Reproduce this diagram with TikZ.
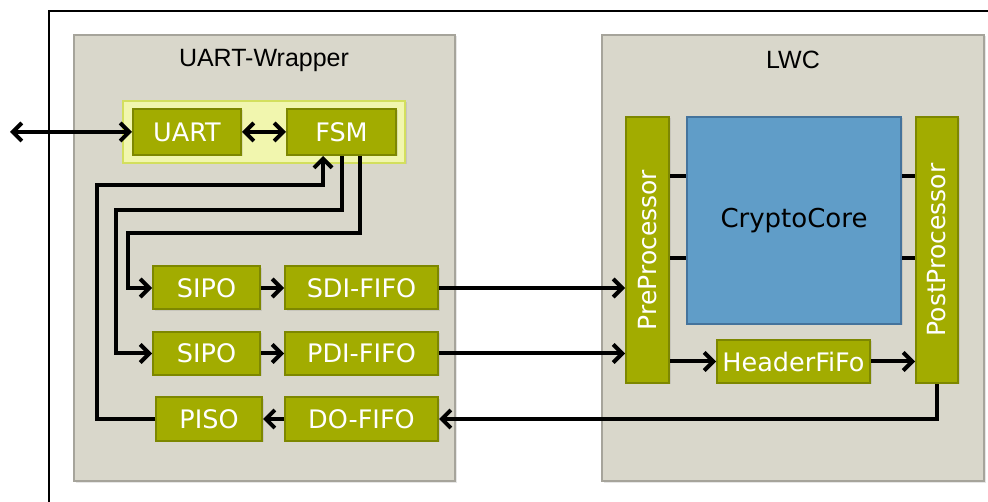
\documentclass[tikz,border=0pt]{standalone}
\usepackage{fontspec}
\setmainfont{DejaVu Sans}
\newfontfamily\titlefont{Liberation Sans}
\usetikzlibrary{arrows.meta,shadows}

\definecolor{panelgray}{HTML}{D9D7CB}
\definecolor{panelline}{HTML}{A6A49B}
\definecolor{blockgreen}{HTML}{A2AC00}
\definecolor{blockline}{HTML}{7D8700}
\definecolor{groupyellow}{HTML}{F1F6AE}
\definecolor{groupline}{HTML}{D3DF5E}
\definecolor{coreblue}{HTML}{609DC8}
\definecolor{coreline}{HTML}{44739C}

\begin{document}
\begin{tikzpicture}[x=1pt, y=-1pt,
    softshadow/.style={drop shadow={shadow xshift=1.5pt, shadow yshift=-1.5pt, opacity=0.2}},
    panel/.style={draw=panelline, fill=panelgray, line width=2pt, softshadow},
    paneltitle/.style={font=\titlefont\fontsize{25}{30}\selectfont, inner sep=0pt},
    block/.style={draw=blockline, fill=blockgreen, line width=2pt, softshadow,
      text=white, font=\fontsize{25.5}{30}\selectfont, inner sep=0pt},
    sidetext/.style={rotate=90, text=white, font=\fontsize{25}{30}\selectfont, inner sep=0pt},
    wire/.style={line width=4pt},
    arr/.style={wire, -{Straight Barb[length=9pt, width=18pt]}},
    dblarr/.style={wire, {Straight Barb[length=9pt, width=18pt]}-{Straight Barb[length=9pt, width=18pt]}}
  ]
  \useasboundingbox (0,0) rectangle (988,502);

  % Outer frame (runs off the page)
  \draw[line width=2pt] (49,502) -- (49,11) -- (990,11);

  % The two panels
  \node[panel, minimum width=381pt, minimum height=446pt] (wrapper) at (264.5,258) {};
  \node[panel, minimum width=382pt, minimum height=446pt] (lwc) at (793,258) {};
  \node[paneltitle] (wraptitle) at (264,60) {UART-Wrapper};
  \node[paneltitle] (lwctitle) at (793,60) {LWC};

  % UART + FSM group
  \node[draw=groupline, fill=groupyellow, line width=1.5pt, softshadow,
    minimum width=282pt, minimum height=62pt] (ctrlgroup) at (264,132) {};
  \node[block, minimum width=108pt, minimum height=46pt] (uart) at (187,132) {UART};
  \node[block, minimum width=109pt, minimum height=46pt] (fsm) at (341.5,132) {FSM};

  % Serial/parallel converters and fifos
  \node[block, minimum width=107pt, minimum height=43pt] (sipoa) at (206.5,288) {SIPO};
  \node[block, minimum width=153pt, minimum height=43pt] (sdififo) at (361.5,288) {SDI-FIFO};
  \node[block, minimum width=107pt, minimum height=43pt] (sipob) at (206.5,353.5) {SIPO};
  \node[block, minimum width=153pt, minimum height=43pt] (pdififo) at (361.5,353.5) {PDI-FIFO};
  \node[block, minimum width=106pt, minimum height=43pt] (piso) at (209,419) {PISO};
  \node[block, minimum width=153pt, minimum height=43pt] (dofifo) at (361.5,419) {DO-FIFO};

  % LWC internals
  \node[block, minimum width=43pt, minimum height=266pt] (pre) at (647.5,250) {};
  \node[sidetext] (pretext) at (pre) {PreProcessor};
  \node[block, minimum width=42pt, minimum height=266pt] (post) at (937,250) {};
  \node[sidetext] (posttext) at (post) {PostProcessor};
  \node[draw=coreline, fill=coreblue, line width=2pt, softshadow,
    minimum width=214pt, minimum height=207pt,
    font=\fontsize{26}{30}\selectfont] (core) at (794,220.5) {CryptoCore};
  \node[block, minimum width=153pt, minimum height=43pt] (header) at (793.5,361.5) {HeaderFiFo};

  % Host link and UART <-> FSM
  \coordinate (host) at (10,132);
  \draw[dblarr] (host) -- (uart.west);
  \draw[dblarr] (uart.east) -- (fsm.west);

  % FSM control lines
  \draw[arr] (piso.west) -| (97,185) -| ([xshift=-18.5pt]fsm.south);
  \draw[arr] (fsm.south) |- (116,210) |- (sipob.west);
  \draw[arr] ([xshift=18.5pt]fsm.south) |- (128,233) |- (sipoa.west);

  % Data path inside the wrapper
  \draw[arr] (sipoa) -- (sdififo);
  \draw[arr] (sipob) -- (pdififo);
  \draw[arr] (dofifo) -- (piso);

  % Wrapper <-> LWC
  \draw[arr] (sdififo.east) -- (sdififo.east -| pre.west);
  \draw[arr] (pdififo.east) -- (pdififo.east -| pre.west);
  \draw[arr] (post.south) |- (dofifo.east);

  % Inside LWC
  \draw[arr] (header.west -| pre.east) -- (header.west);
  \draw[arr] (header.east) -- (header.east -| post.west);
  \foreach \yy in {176,258} {
    \draw[wire] (pre.east |- 0,\yy) -- (core.west |- 0,\yy);
    \draw[wire] (core.east |- 0,\yy) -- (post.west |- 0,\yy);
  }
\end{tikzpicture}
\end{document}
